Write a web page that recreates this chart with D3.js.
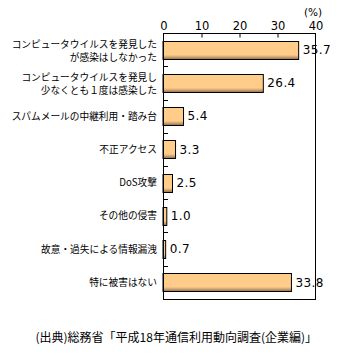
<!DOCTYPE html>
<html>
<head>
<meta charset="utf-8">
<script src="https://cdn.jsdelivr.net/npm/d3@7"></script>
<style>
  html, body { margin: 0; padding: 0; background: #fff; }
  svg { display: block; }
</style>
</head>
<body>
<svg id="chart" width="339" height="355"></svg>
<script>
// Categories (each entry is a list of label lines) and their percentages
const categories = [
  ["コンピュータウイルスを発見した", "が感染はしなかった"],
  ["コンピュータウイルスを発見し", "少なくとも１度は感染した"],
  ["スパムメールの中継利用・踏み台"],
  ["不正アクセス"],
  ["DoS攻撃"],
  ["その他の侵害"],
  ["故意・過失による情報漏洩"],
  ["特に被害はない"]
];
const values = [35.7, 26.4, 5.4, 3.3, 2.5, 1.0, 0.7, 33.8];
const tickValues = [0, 10, 20, 30, 40];
const unitLabel = "(%)";
const sourceNote = "(出典)総務省「平成18年通信利用動向調査(企業編)」";

const svg = d3.select("#chart");
const jpFont = "'Noto Sans CJK JP', sans-serif";
const numFont = "'DejaVu Sans', sans-serif";

const plot = { left: 163, right: 315, top: 33, bottom: 299 };

const x = d3.scaleLinear().domain([0, 40]).range([plot.left, plot.right]);
const y = d3.scaleBand()
  .domain(d3.range(categories.length))
  .range([plot.top, plot.bottom])
  .paddingInner(0.46)
  .paddingOuter(0.23);

// Bar fill: flat peach with a darker brown band along the bottom edge
const defs = svg.append("defs");
const grad = defs.append("linearGradient")
  .attr("id", "barFill").attr("x1", 0).attr("y1", 0).attr("x2", 0).attr("y2", 1);
[
  [0, "#ffcc8a"], [0.72, "#ffcc8a"], [0.8, "#eebc80"],
  [0.88, "#c49a6a"], [1, "#8e6e4c"]
].forEach(([o, c]) => grad.append("stop").attr("offset", o).attr("stop-color", c));

// Bars
svg.append("g").selectAll("rect")
  .data(values)
  .join("rect")
  .attr("x", x(0))
  .attr("y", (d, i) => Math.round(y(i)) + 0.5)
  .attr("width", d => x(d) - x(0))
  .attr("height", Math.round(y.bandwidth()))
  .attr("fill", "url(#barFill)")
  .attr("stroke", "#000")
  .attr("stroke-width", 1);

// Frame around the plot
svg.append("rect")
  .attr("x", plot.left + 0.5).attr("y", plot.top + 0.5)
  .attr("width", plot.right - plot.left).attr("height", plot.bottom - plot.top)
  .attr("fill", "none").attr("stroke", "#000").attr("stroke-width", 1);

// Top value axis with inward ticks
const xAxis = d3.axisTop(x).tickValues(tickValues).tickSize(-4).tickPadding(4).tickFormat(d3.format("d"));
const gx = svg.append("g").attr("transform", `translate(0.5,${plot.top + 0.5})`).call(xAxis);
gx.select(".domain").remove();
gx.selectAll(".tick line").attr("stroke", "#000")
  .filter(d => d === 0 || d === 40).remove();
gx.selectAll(".tick text")
  .attr("font-family", numFont).attr("font-size", 11.5).attr("fill", "#000");

// Short inward ticks on the category axis at band boundaries
const boundaries = d3.range(1, categories.length).map(i => y(i) - y.step() * y.paddingInner() / 2);
svg.append("g").selectAll("line")
  .data(boundaries)
  .join("line")
  .attr("x1", plot.left).attr("x2", plot.left + 5)
  .attr("y1", d => Math.round(d) + 0.5).attr("y2", d => Math.round(d) + 0.5)
  .attr("stroke", "#000");

// Unit label
svg.append("text")
  .attr("x", 313).attr("y", 16)
  .attr("text-anchor", "middle")
  .attr("font-family", numFont).attr("font-size", 10.5)
  .text(unitLabel);

// Category labels
const lineGap = 13;
svg.append("g").selectAll("text")
  .data(categories)
  .join("text")
  .attr("text-anchor", "end")
  .attr("font-family", jpFont).attr("font-size", 9.7)
  .attr("fill", "#000")
  .each(function (lines, i) {
    const cy = y(i) + y.bandwidth() / 2 + (lines.length > 1 ? 1.5 : 0);
    const t = d3.select(this);
    lines.forEach((ln, k) => {
      t.append("tspan")
        .attr("x", 157)
        .attr("y", cy + (k - (lines.length - 1) / 2) * lineGap)
        .attr("dy", "0.35em")
        .text(ln);
    });
  });

// Value labels at bar ends
svg.append("g").selectAll("text")
  .data(values)
  .join("text")
  .attr("x", d => x(d) + 4)
  .attr("y", (d, i) => y(i) + y.bandwidth() / 2)
  .attr("dy", "0.36em")
  .attr("font-family", numFont).attr("font-size", 12)
  .attr("letter-spacing", 0.4)
  .text(d => d.toFixed(1));

// Source note
svg.append("text")
  .attr("x", 317).attr("y", 342)
  .attr("text-anchor", "end")
  .attr("font-family", jpFont).attr("font-size", 12)
  .text(sourceNote);
</script>
</body>
</html>
